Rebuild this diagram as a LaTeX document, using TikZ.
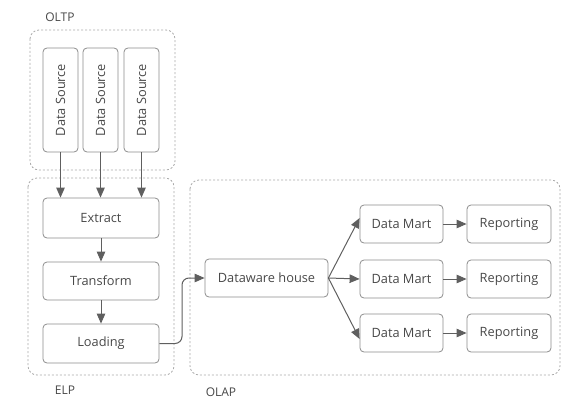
\documentclass[tikz,border=0pt]{standalone}
\usepackage{fontspec}
\setmainfont{Open Sans}
\usetikzlibrary{arrows.meta}
\definecolor{txt}{HTML}{484848}
\definecolor{brd}{HTML}{8C8C8C}
\definecolor{grp}{HTML}{AAAAAA}
\definecolor{arr}{HTML}{5F5F5F}
\tikzset{
  box/.style={draw=brd, line width=0.8pt, rounded corners=4pt, text=txt, font=\fontsize{12.8}{14}\selectfont, inner sep=0pt},
  grpbox/.style={draw=grp, line width=0.8pt, dash pattern=on 2pt off 2pt, rounded corners=9pt},
  lbl/.style={text=txt, font=\fontsize{12}{14}\selectfont},
  conn/.style={draw=arr, line width=1pt, -{Triangle[length=10pt,width=8.5pt]}}
}
\begin{document}
\begin{tikzpicture}[x=1pt,y=-1pt]
\useasboundingbox (0,0) rectangle (586,409);
% groups
\draw[grpbox] (30,30) rectangle (175,170);
\draw[grpbox] (28,178) rectangle (174,375);
\draw[grpbox] (190,180) rectangle (560,375);
\node[lbl] (loltp) at (60,17) {OLTP};
\node[lbl] (lelp) at (65,390) {ELP};
\node[lbl] (lolap) at (221,392) {OLAP};
% sources
\node[box, rotate=90, minimum width=104pt, minimum height=35pt] (ds1) at (60.5,100) {Data Source};
\node[box, rotate=90, minimum width=104pt, minimum height=35pt] (ds2) at (100.5,100) {Data Source};
\node[box, rotate=90, minimum width=104pt, minimum height=35pt] (ds3) at (141.5,100) {Data Source};
% ELP
\node[box, minimum width=116pt, minimum height=40pt] (ex) at (101,218) {Extract};
\node[box, minimum width=116pt, minimum height=38pt] (tr) at (101,281) {Transform};
\node[box, minimum width=116pt, minimum height=39pt] (lo) at (101,343.5) {Loading};
% OLAP
\node[box, minimum width=123pt, minimum height=38pt] (dw) at (266.5,278) {Dataware house};
\node[box, minimum width=83pt, minimum height=38pt] (dm1) at (401.5,224) {Data Mart};
\node[box, minimum width=83pt, minimum height=38pt] (dm2) at (401.5,279) {Data Mart};
\node[box, minimum width=83pt, minimum height=38pt] (dm3) at (401.5,333) {Data Mart};
\node[box, minimum width=84pt, minimum height=38pt] (rp1) at (509,224) {Reporting};
\node[box, minimum width=84pt, minimum height=38pt] (rp2) at (509,279) {Reporting};
\node[box, minimum width=84pt, minimum height=38pt] (rp3) at (509,333) {Reporting};
% connectors
\draw[conn] (ds1.west) -- (ds1.west |- ex.north);
\draw[conn] (ds2.west) -- (ds2.west |- ex.north);
\draw[conn] (ds3.west) -- (ds3.west |- ex.north);
\draw[conn] (ex) -- (tr);
\draw[conn] (tr) -- (lo);
\coordinate (bend) at (182,300);
\draw[conn, rounded corners=7pt] (lo.east) -| (bend |- dw.west) -- (dw.west);
\draw[conn] (dw.east) -- ([yshift=6pt]dm1.west);
\draw[conn] (dw.east) -- (dm2.west);
\draw[conn] (dw.east) -- ([yshift=-6pt]dm3.west);
\draw[conn] (dm1) -- (rp1);
\draw[conn] (dm2) -- (rp2);
\draw[conn] (dm3) -- (rp3);
\end{tikzpicture}
\end{document}
